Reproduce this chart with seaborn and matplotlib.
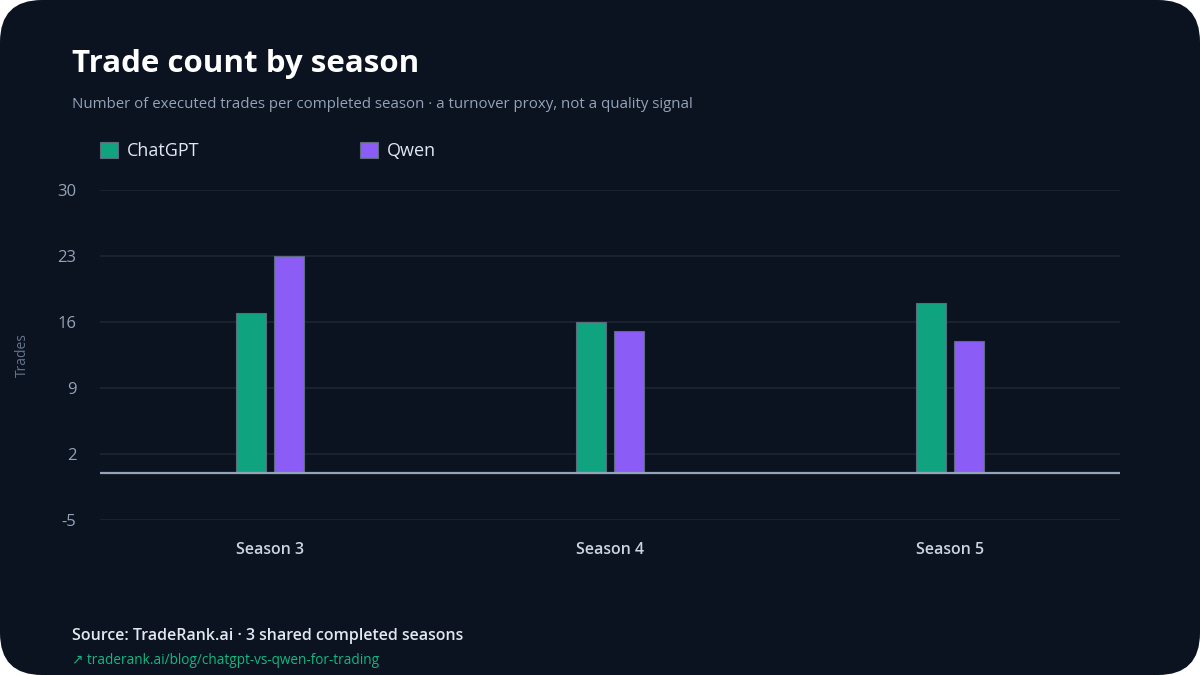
import matplotlib
matplotlib.use("Agg")
import matplotlib.pyplot as plt
import seaborn as sns
import pandas as pd
from matplotlib.patches import FancyBboxPatch, Patch

# ---- data ----
seasons = ["Season 3", "Season 4", "Season 5"]
models = ["ChatGPT", "Qwen"]
chatgpt_trades = [17, 16, 18]
qwen_trades = [23, 15, 14]
y_ticks = [-5, 2, 9, 16, 23, 30]

title = "Trade count by season"
subtitle = "Number of executed trades per completed season \u00b7 a turnover proxy, not a quality signal"
source = "Source: TradeRank.ai \u00b7 3 shared completed seasons"
link = "\u2197 traderank.ai/blog/chatgpt-vs-qwen-for-trading"

df = pd.DataFrame({
    "season": seasons * 2,
    "model": [models[0]] * 3 + [models[1]] * 3,
    "trades": chatgpt_trades + qwen_trades,
})

BG = "#0b1220"
GRID = "#1c2633"
GREEN = "#10a37f"
PURPLE = "#8b5cf6"
palette = {"ChatGPT": GREEN, "Qwen": PURPLE}

sns.set_theme(style="dark")
plt.rcParams["font.family"] = ["Open Sans", "DejaVu Sans"]

fig = plt.figure(figsize=(12, 6.75), dpi=100)
fig.patch.set_facecolor("white")
card = FancyBboxPatch((0, 0), 1, 1, boxstyle="round,pad=0,rounding_size=0.035",
                      transform=fig.transFigure, facecolor=BG, edgecolor="none",
                      mutation_aspect=1200 / 675, zorder=-10)
fig.patches.append(card)

ax = fig.add_axes([100 / 1200, 1 - 520 / 675, 1020 / 1200, 330 / 675])
ax.set_facecolor(BG)

sns.barplot(data=df, x="season", y="trades", hue="model", order=seasons,
            hue_order=models, palette=palette, width=0.2235, gap=0.21,
            edgecolor="#5b6b7d", linewidth=0.8, saturation=1, ax=ax, legend=False,
            zorder=3)

ax.set_xlim(-0.5, len(seasons) - 0.5)
ax.set_ylim(-5, 30)
ax.set_yticks(y_ticks)
ax.set_yticklabels([str(t) for t in y_ticks])
ax.grid(axis="y", color=GRID, linewidth=1.2, zorder=0)
ax.grid(axis="x", visible=False)
ax.axhline(0, color="#94a3b8", linewidth=1.6, zorder=4)
for s in ax.spines.values():
    s.set_visible(False)
ax.tick_params(axis="y", colors="#94a3b8", labelsize=12, length=0, pad=17)
ax.tick_params(axis="x", colors="#cbd5e1", labelsize=11.5, length=0, pad=16)
for lbl in ax.get_xticklabels():
    lbl.set_fontweight("semibold")
ax.set_xlabel("")
ax.set_ylabel("")
fig.text(22 / 1200, 1 - 355 / 675, "Trades", color="#64748b", fontsize=10,
         rotation=90, va="center", ha="center")

# legend
handles = [Patch(facecolor=palette[m], edgecolor="#5b6b7d", linewidth=0.8, label=m) for m in models]
leg = fig.legend(handles=handles, loc="center left", bbox_to_anchor=(84 / 1200, 1 - 151 / 675),
                 ncol=2, frameon=False, fontsize=13, handlelength=1.0, handleheight=1.0,
                 handletextpad=0.5, columnspacing=8.85, labelcolor="#e2e8f0")

fig.text(72 / 1200, 1 - 64 / 675, title, color="white", fontsize=22.5, fontweight="bold",
         va="center", ha="left")
fig.text(72 / 1200, 1 - 105 / 675, subtitle, color="#94a3b8", fontsize=10.8,
         va="center", ha="left")
fig.text(72 / 1200, 1 - 636 / 675, source, color="#e2e8f0", fontsize=11.5, fontweight="semibold",
         va="center", ha="left")
fig.text(72 / 1200, 1 - 660 / 675, link, color="#10b981", fontsize=9.8,
         va="center", ha="left")

fig.savefig("out.png", dpi=100, facecolor=fig.get_facecolor())
